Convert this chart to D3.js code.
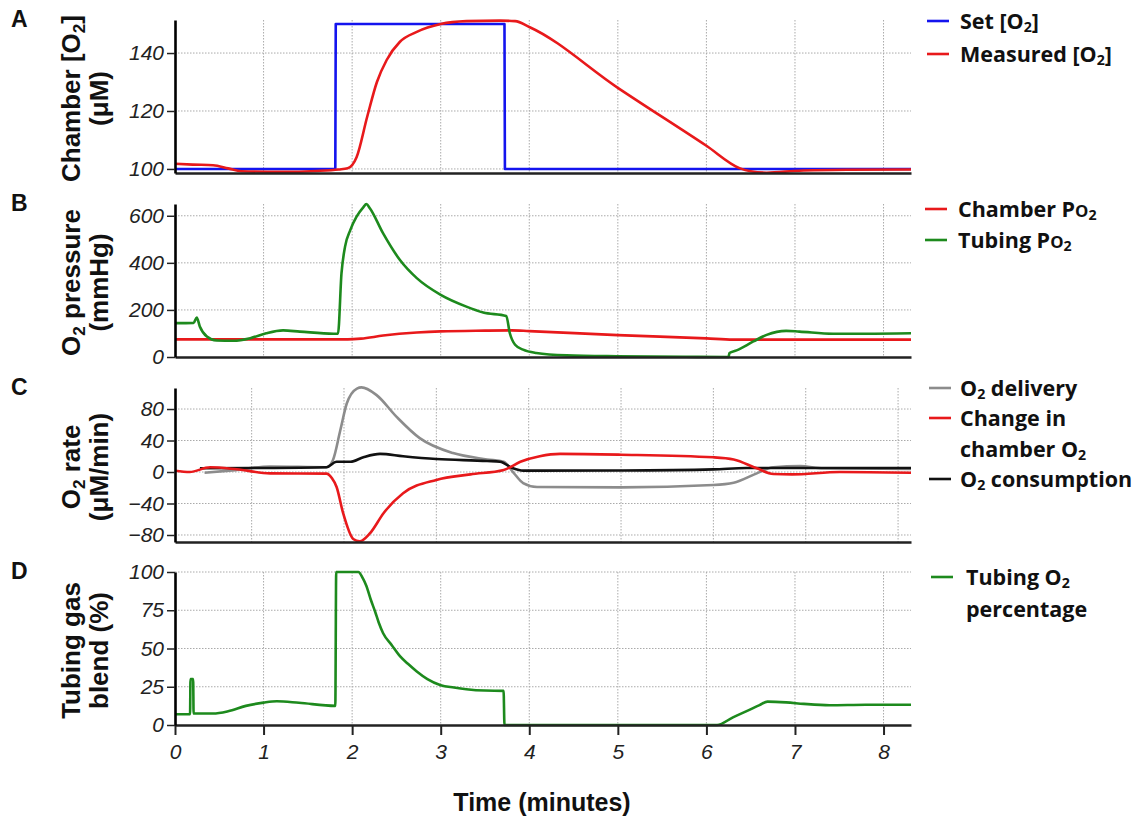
<!DOCTYPE html>
<html lang="en">
<head>
<meta charset="UTF-8">
<title>Chamber oxygen control</title>
<script src="https://d3js.org/d3.v7.min.js"></script>
<style>
    body { margin: 0; background: #fff; }
    .ytitle, .xtitle, .letter { font-family: "Liberation Sans", Arimo, Arial, sans-serif; font-weight: bold; fill: #111; }
    .legend text { font-family: "Open Sans", "Noto Sans", sans-serif; font-weight: bold; fill: #111; }
</style>
</head>
<body>
<svg id="chart" width="1146" height="819"></svg>
<script>
    // Panel A: chamber [O2] (uM)
    const setT = [0, 1.81, 1.815, 3.72, 3.725, 8.31];
    const setV = [100, 100, 150, 150, 100, 100];
    const measT = [0, 0.2, 0.43, 0.6, 0.75, 1.2, 1.6, 1.85, 1.95, 2.05, 2.17, 2.28, 2.39, 2.54, 2.73, 3.0, 3.29, 3.67, 3.84, 4.0, 5.0, 6.0, 6.38, 6.5, 6.68, 7.05, 7.6, 8.31];
    const measV = [101.8, 101.5, 101.3, 100.2, 99.2, 99, 99.3, 99.8, 100.2, 104, 118, 130, 137.6, 143.9, 147.3, 150, 151, 151.2, 151, 149, 128, 108, 100.2, 99.2, 98.7, 99.4, 99.7, 99.8];

    // Panel B: O2 pressure (mmHg)
    const chamberPT = [0, 1.95, 2.1, 2.35, 2.73, 3.0, 3.5, 3.8, 4.0, 5.0, 6.0, 6.3, 6.6, 8.31];
    const chamberPV = [75, 75, 78, 91, 104, 109, 112, 113, 110, 93, 79, 74, 74, 74];
    const tubingPT = [0, 0.21, 0.245, 0.28, 0.36, 0.47, 0.66, 0.85, 1.03, 1.22, 1.41, 1.79, 1.84, 1.88, 1.92, 1.98, 2.05, 2.13, 2.16, 2.2, 2.35, 2.54, 2.73, 3.0, 3.29, 3.48, 3.74, 3.78, 3.84, 3.93, 4.08, 4.42, 5.0, 5.76, 6.25, 6.26, 6.34, 6.53, 6.68, 6.9, 7.05, 7.43, 7.8, 8.31];
    const tubingPV = [144, 145, 168, 130, 87, 70, 69, 80, 101, 113, 108, 99, 99, 356, 469, 540, 596, 638, 650, 632, 525, 412, 335, 264, 214, 189, 174, 102, 52, 31, 17, 7, 3, 1, 0, 17, 28, 66, 94, 111, 108, 99, 99, 101];

    // Panel C: O2 rate (uM/min), plotted on its own time axis
    const changeT = [0.17, 0.33, 0.55, 0.84, 1.2, 1.81, 1.87, 1.92, 1.99, 2.1, 2.17, 2.28, 2.43, 2.64, 3.0, 3.37, 3.73, 3.91, 4.12, 4.34, 5.0, 6.0, 6.22, 6.47, 6.65, 6.85, 7.37, 8.14];
    const changeV = [1.7, 0, 6, 3.4, -1.7, -2, -8, -19, -52, -85, -88, -78, -52, -27, -10, -3, 2.5, 13, 20, 23, 22, 18.7, 16, 4.7, -2.5, -3, 0, -1];
    const deliveryT = [0.49, 0.76, 1.2, 1.81, 1.88, 1.96, 2.03, 2.14, 2.19, 2.35, 2.57, 2.82, 3.18, 3.55, 3.73, 3.83, 3.94, 4.09, 5.0, 6.0, 6.22, 6.47, 6.65, 6.94, 7.19, 8.14];
    const deliveryV = [-1, 1.7, 7, 6, 15, 53, 87, 106, 107.5, 98, 70, 43, 24, 16, 13, 0, -14, -19, -19.5, -16.5, -13.6, -1.7, 6, 7.6, 4.7, 4];
    const consumeT = [0.44, 1.0, 1.81, 1.92, 2.07, 2.21, 2.39, 2.64, 3.0, 3.55, 3.69, 3.83, 3.94, 5.0, 6.0, 6.36, 8.14];
    const consumeV = [4.7, 5, 6, 13, 13, 18.7, 23, 20, 16.5, 14, 13, 4.7, 1.7, 2, 3.4, 5, 5];

    // Panel D: tubing gas blend (%)
    const blendT = [0, 0.17, 0.175, 0.205, 0.21, 0.43, 0.6, 0.8, 1.0, 1.15, 1.4, 1.81, 1.82, 2.07, 2.12, 2.16, 2.21, 2.26, 2.3, 2.35, 2.45, 2.54, 2.63, 2.73, 2.85, 3.0, 3.15, 3.29, 3.5, 3.71, 3.72, 6.12, 6.3, 6.46, 6.6, 6.69, 6.9, 7.1, 7.39, 7.8, 8.31];
    const blendV = [7, 7, 30, 30, 7.5, 7.5, 9, 12.5, 14.6, 15.5, 14.5, 12.5, 100, 100, 96, 91, 82, 74, 67, 60, 52, 45, 40, 35, 30, 26, 24.5, 23.4, 22.5, 22.3, 0, 0, 5, 9.2, 13, 15.3, 14.8, 13.8, 12.9, 13.2, 13.2];

    const timeTicks = [0, 1, 2, 3, 4, 5, 6, 7, 8];

    const svg = d3.select('#chart');
    const x = d3.scaleLinear().domain([0, 8.31]).range([175, 911]);
    const xC = d3.scaleLinear().domain([0.17, 8.14]).range([175, 911]);

    function rich(sel, segs, fs) {
        let shift = 0;
        segs.forEach(s => {
            let target = 0, size = fs, txt = s;
            if (typeof s === 'object') {
                if (s.sub) { target = fs * 0.18; size = fs * 0.66; txt = s.sub; }
                else { size = fs * 0.78; txt = s.small; }
            }
            sel.append('tspan').attr('dy', target - shift).style('font-size', size + 'px').text(txt);
            shift = target;
        });
    }

    function styleTicks(axisG) {
        axisG.selectAll('.tick text')
            .style('font-family', '"Liberation Sans", Arimo, Arial, sans-serif')
            .style('font-style', 'italic')
            .style('font-size', '21px')
            .attr('fill', '#222');
    }

    const panels = [
        { letter: 'A', xs: x, range: [173, 20], domain: [98.6, 151.4], ticks: [100, 120, 140], grid: [100, 120, 140],
          title: [['Chamber [O', {sub: '2'}, ']'], ['(μM)']],
          series: [
              { t: setT, v: setV, color: '#1414ee', curve: d3.curveLinear },
              { t: measT, v: measV, color: '#e8191b', curve: d3.curveMonotoneX }
          ] },
        { letter: 'B', xs: x, range: [357, 204], domain: [0, 650], ticks: [0, 200, 400, 600], grid: [200, 400, 600],
          title: [['O', {sub: '2'}, ' pressure'], ['(mmHg)']],
          series: [
              { t: chamberPT, v: chamberPV, color: '#e8191b', curve: d3.curveMonotoneX },
              { t: tubingPT, v: tubingPV, color: '#1d8a1d', curve: d3.curveMonotoneX }
          ] },
        { letter: 'C', xs: xC, range: [542, 388], domain: [-88.9, 106.7], ticks: [-80, -40, 0, 40, 80], grid: [-80, -40, 0, 40, 80],
          title: [['O', {sub: '2'}, ' rate'], ['(μM/min)']],
          series: [
              { t: deliveryT, v: deliveryV, color: '#8c8c8c', curve: d3.curveMonotoneX },
              { t: consumeT, v: consumeV, color: '#111', curve: d3.curveMonotoneX },
              { t: changeT, v: changeV, color: '#e8191b', curve: d3.curveMonotoneX }
          ] },
        { letter: 'D', xs: x, range: [725, 572], domain: [0, 100], ticks: [0, 25, 50, 75, 100], grid: [25, 50, 75, 100],
          title: [['Tubing gas'], ['blend (%)']],
          series: [
              { t: blendT, v: blendV, color: '#1d8a1d', curve: d3.curveMonotoneX }
          ] }
    ];

    panels.forEach(p => {
        const y = d3.scaleLinear().domain(p.domain).range(p.range);
        const g = svg.append('g');
        const [bottom, top] = p.range;

        // dotted grid
        g.selectAll('.vgrid').data([1, 2, 3, 4, 5, 6, 7, 8]).enter().append('line')
            .attr('x1', d => p.xs(d)).attr('x2', d => p.xs(d))
            .attr('y1', top).attr('y2', bottom)
            .attr('stroke', '#aaa').attr('stroke-width', 1).attr('stroke-dasharray', '1.5,1.5');
        g.selectAll('.hgrid').data(p.grid).enter().append('line')
            .attr('x1', 175).attr('x2', 911)
            .attr('y1', d => y(d)).attr('y2', d => y(d))
            .attr('stroke', '#aaa').attr('stroke-width', 1).attr('stroke-dasharray', '1.5,1.5');

        // series
        p.series.forEach(s => {
            const line = d3.line().x(d => p.xs(d[0])).y(d => y(d[1])).curve(s.curve);
            g.append('path').datum(d3.zip(s.t, s.v))
                .attr('fill', 'none').attr('stroke', s.color).attr('stroke-width', 2.6)
                .attr('stroke-linejoin', 'round').attr('d', line);
        });

        // bottom axis
        const xa = g.append('g').attr('transform', `translate(0,${bottom})`);
        if (p.letter === 'D') {
            xa.call(d3.axisBottom(x).tickValues(timeTicks).tickSize(10).tickSizeOuter(0).tickPadding(9).tickFormat(d3.format('d')));
        } else {
            xa.call(d3.axisBottom(x).tickValues([]).tickSizeOuter(0));
        }
        xa.select('.domain').attr('stroke', '#222').attr('stroke-width', 2.5);
        xa.selectAll('.tick line').attr('stroke', '#222').attr('stroke-width', 2);
        styleTicks(xa);

        // left axis
        const ya = g.append('g').attr('transform', 'translate(175,0)')
            .call(d3.axisLeft(y).tickValues(p.ticks).tickSize(8).tickSizeOuter(0).tickPadding(3));
        ya.select('.domain').attr('stroke', '#000').attr('stroke-width', 2.6);
        ya.selectAll('.tick line').attr('stroke', '#222').attr('stroke-width', 1.5);
        styleTicks(ya);

        // y titles and panel letter
        const cy = (top + bottom) / 2 + 2;
        p.title.forEach((segs, j) => {
            const t = svg.append('text').attr('class', 'ytitle')
                .attr('text-anchor', 'middle')
                .attr('transform', `translate(${80 + j * 28},${cy}) rotate(-90)`);
            rich(t, segs, 26);
        });
        svg.append('text').attr('class', 'letter')
            .attr('x', 11).attr('y', top + 7).style('font-size', '23px').text(p.letter);
    });

    svg.append('text').attr('class', 'xtitle')
        .attr('x', 542).attr('y', 811).attr('text-anchor', 'middle')
        .style('font-size', '25px').text('Time (minutes)');

    // legends
    const legends = [
        { x: 927, tx: 960, rows: [
            { y: 21, color: '#1414ee', label: ['Set [O', {sub: '2'}, ']'] },
            { y: 54, color: '#e8191b', label: ['Measured [O', {sub: '2'}, ']'] }] },
        { x: 925, tx: 958, rows: [
            { y: 209, color: '#e8191b', label: ['Chamber P', {small: 'O'}, {sub: '2'}] },
            { y: 240, color: '#1d8a1d', label: ['Tubing P', {small: 'O'}, {sub: '2'}] }] },
        { x: 929, tx: 960, rows: [
            { y: 388, color: '#8c8c8c', label: ['O', {sub: '2'}, ' delivery'] },
            { y: 418, color: '#e8191b', label: ['Change in'] },
            { y: 449, color: null, label: ['chamber O', {sub: '2'}] },
            { y: 479, color: '#111', label: ['O', {sub: '2'}, ' consumption'] }] },
        { x: 931, tx: 966, rows: [
            { y: 577, color: '#1d8a1d', label: ['Tubing O', {sub: '2'}] },
            { y: 609, color: null, label: ['percentage'] }] }
    ];

    legends.forEach(L => {
        const g = svg.append('g').attr('class', 'legend');
        L.rows.forEach(r => {
            if (r.color) {
                g.append('line').attr('x1', L.x).attr('x2', L.x + 22)
                    .attr('y1', r.y).attr('y2', r.y)
                    .attr('stroke', r.color).attr('stroke-width', 2.6);
            }
            const t = g.append('text').attr('x', L.tx).attr('y', r.y + 7.5);
            rich(t, r.label, 21.5);
        });
    });
</script>
</body>
</html>
